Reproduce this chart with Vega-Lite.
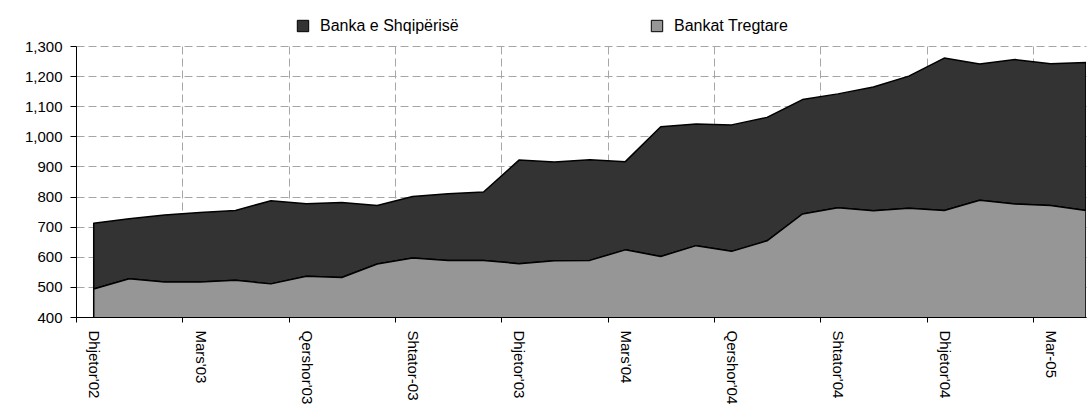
{
  "$schema": "https://vega.github.io/schema/vega-lite/v6.json",
  "width": 1010,
  "height": 271,
  "autosize": "none",
  "padding": {"left": 76, "top": 46, "right": 5, "bottom": 98},
  "background": "white",
  "config": {"view": {"stroke": null}, "font": "Liberation Sans"},
  "data": {
    "values": [
      {"k": 0, "Bankat Tregtare": 493, "Banka e Shqipërisë": 218},
      {"k": 1, "Bankat Tregtare": 527, "Banka e Shqipërisë": 199},
      {"k": 2, "Bankat Tregtare": 516, "Banka e Shqipërisë": 223},
      {"k": 3, "Bankat Tregtare": 516, "Banka e Shqipërisë": 231},
      {"k": 4, "Bankat Tregtare": 522, "Banka e Shqipërisë": 232},
      {"k": 5, "Bankat Tregtare": 510, "Banka e Shqipërisë": 276},
      {"k": 6, "Bankat Tregtare": 535, "Banka e Shqipërisë": 241},
      {"k": 7, "Bankat Tregtare": 531, "Banka e Shqipërisë": 249},
      {"k": 8, "Bankat Tregtare": 576, "Banka e Shqipërisë": 194},
      {"k": 9, "Bankat Tregtare": 596, "Banka e Shqipërisë": 204},
      {"k": 10, "Bankat Tregtare": 588, "Banka e Shqipërisë": 221},
      {"k": 11, "Bankat Tregtare": 588, "Banka e Shqipërisë": 227},
      {"k": 12, "Bankat Tregtare": 577, "Banka e Shqipërisë": 344},
      {"k": 13, "Bankat Tregtare": 587, "Banka e Shqipërisë": 328},
      {"k": 14, "Bankat Tregtare": 588, "Banka e Shqipërisë": 334},
      {"k": 15, "Bankat Tregtare": 623, "Banka e Shqipërisë": 293},
      {"k": 16, "Bankat Tregtare": 601, "Banka e Shqipërisë": 431},
      {"k": 17, "Bankat Tregtare": 637, "Banka e Shqipërisë": 404},
      {"k": 18, "Bankat Tregtare": 618, "Banka e Shqipërisë": 420},
      {"k": 19, "Bankat Tregtare": 653, "Banka e Shqipërisë": 410},
      {"k": 20, "Bankat Tregtare": 742, "Banka e Shqipërisë": 380},
      {"k": 21, "Bankat Tregtare": 763, "Banka e Shqipërisë": 378},
      {"k": 22, "Bankat Tregtare": 753, "Banka e Shqipërisë": 411},
      {"k": 23, "Bankat Tregtare": 761, "Banka e Shqipërisë": 439},
      {"k": 24, "Bankat Tregtare": 754, "Banka e Shqipërisë": 506},
      {"k": 25, "Bankat Tregtare": 788, "Banka e Shqipërisë": 452},
      {"k": 26, "Bankat Tregtare": 775, "Banka e Shqipërisë": 480},
      {"k": 27, "Bankat Tregtare": 770, "Banka e Shqipërisë": 471},
      {"k": 28, "Bankat Tregtare": 754, "Banka e Shqipërisë": 491}
    ]
  },
  "transform": [
    {"fold": ["Banka e Shqipërisë", "Bankat Tregtare"], "as": ["series", "value"]}
  ],
  "mark": {"type": "area", "clip": true, "stroke": "black", "strokeWidth": 1.5, "strokeJoin": "round", "fillOpacity": 1},
  "encoding": {
    "x": {
      "field": "k",
      "type": "quantitative",
      "scale": {"domain": [-0.5, 28], "nice": false, "zero": false},
      "axis": {
        "title": null,
        "values": [0, 3, 6, 9, 12, 15, 18, 21, 24, 27],
        "tickOffset": -17.72,
        "labelOffset": 17.72,
        "labelAngle": 90,
        "labelExpr": "[\"Dhjetor'02\",\"Mars'03\",\"Qershor'03\",\"Shtator-03\",\"Dhjetor'03\",\"Mars'04\",\"Qershor'04\",\"Shtator'04\",\"Dhjetor'04\",\"Mar-05\"][round(datum.value/3)]",
        "labelFontSize": 15,
        "labelColor": "black",
        "labelPadding": 8,
        "labelFlush": false,
        "labelOverlap": false,
        "labelBound": false,
        "tickSize": 5,
        "tickColor": "black",
        "domainColor": "black",
        "grid": true,
        "gridDash": [8, 4],
        "gridColor": "#a6a6a6",
        "gridWidth": 1
      }
    },
    "y": {
      "field": "value",
      "type": "quantitative",
      "stack": "zero",
      "scale": {"domain": [400, 1300], "nice": false, "zero": false},
      "axis": {
        "title": null,
        "values": [400, 500, 600, 700, 800, 900, 1000, 1100, 1200, 1300],
        "format": ",d",
        "labelFontSize": 15,
        "labelColor": "black",
        "labelPadding": 8,
        "tickSize": 6,
        "tickColor": "black",
        "domainColor": "black",
        "grid": true,
        "gridDash": [8, 4],
        "gridColor": "#a6a6a6",
        "gridWidth": 1
      }
    },
    "color": {
      "field": "series",
      "type": "nominal",
      "scale": {"domain": ["Banka e Shqipërisë", "Bankat Tregtare"], "range": ["#333333", "#969696"]},
      "legend": {
        "orient": "none",
        "legendX": 219,
        "legendY": -28,
        "direction": "horizontal",
        "title": null,
        "symbolType": "square",
        "symbolSize": 130,
        "symbolStrokeColor": "black",
        "symbolStrokeWidth": 1,
        "symbolOpacity": 1,
        "labelFontSize": 16,
        "labelColor": "black",
        "labelOffset": 9,
        "columnPadding": 190
      }
    },
    "order": {"field": "series", "sort": "descending"}
  }
}
